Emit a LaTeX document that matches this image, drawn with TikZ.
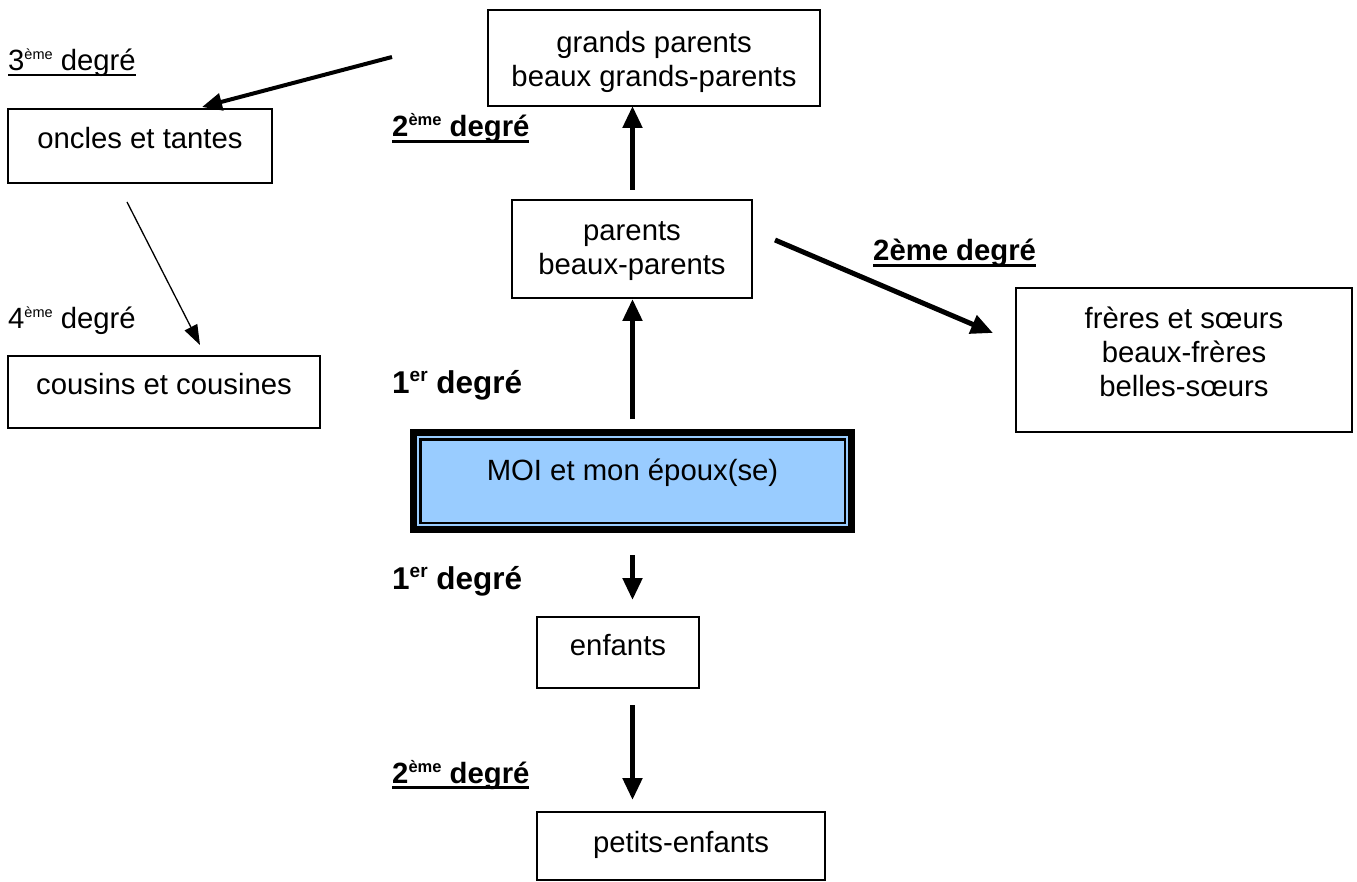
\documentclass[tikz,border=0pt]{standalone}
\usepackage{fontspec}
\setmainfont{Liberation Sans}
\usetikzlibrary{arrows.meta}
\definecolor{moiblue}{HTML}{99CCFF}
\newcommand{\supx}[1]{\raisebox{11pt}{\fontsize{14.5}{14.5}\selectfont #1}}
\newcommand{\supb}[1]{\raisebox{11pt}{\fontsize{16.5}{16.5}\selectfont #1}}
\newcommand{\supy}[1]{\raisebox{12pt}{\fontsize{19}{19}\selectfont #1}}
\newcommand{\undl}[3]{\setbox0\hbox{#3}\rlap{\rule[#1]{\wd0}{#2}}\box0}
\newcommand{\ml}[1]{\begin{tabular}[t]{@{}c@{}}#1\end{tabular}}
\tikzset{
  big/.style={font=\fontsize{29.3}{33.6}\selectfont},
  bigger/.style={font=\fontsize{31.5}{36}\selectfont},
  box/.style={big, draw, line width=1.8pt, inner sep=0pt, outer sep=0pt, anchor=north west},
  thk/.style={line width=5pt, -{Triangle[length=22pt,width=19pt]}},
  mid/.style={line width=4pt, -{Triangle[length=20pt,width=17pt]}},
  thin/.style={line width=1.3pt, -{Triangle[length=20pt,width=14pt]}},
  lbl/.style={big, anchor=base west, inner sep=0pt}
}
\begin{document}
\begin{tikzpicture}[x=1pt,y=-1pt]
\useasboundingbox (0,0) rectangle (1357,882);
% boxes
\node[box, minimum width=332pt, text height=43pt, text depth=53pt] (gp) at (488,10) {\ml{grands parents\\beaux grands-parents}};
\node[box, minimum width=240pt, text height=41pt, text depth=57pt] (par) at (512,200) {\ml{parents\\beaux-parents}};
\node[box, minimum width=336pt, text height=41pt, text depth=103pt] (fr) at (1016,288) {\ml{frères et sœurs\\beaux-frères\\belles-sœurs}};
\node[box, minimum width=264pt, text height=40pt, text depth=34pt] (onc) at (8,109) {oncles et tantes};
\node[box, minimum width=312pt, text height=39pt, text depth=33pt] (cou) at (8,356) {cousins et cousines};
\node[big, anchor=north west, inner sep=0pt, outer sep=0pt, fill=moiblue, minimum width=445pt, text height=51pt, text depth=53pt] (moi) at (410,429) {MOI et mon époux(se)};
\draw[line width=7pt] ([shift={(3.5,3.5)}]moi.north west) rectangle ([shift={(-3.5,-3.5)}]moi.south east);
\draw[line width=2.5pt] ([shift={(10.25,10.25)}]moi.north west) rectangle ([shift={(-10.25,-10.25)}]moi.south east);
\node[box, minimum width=162pt, text height=38pt, text depth=33pt] (enf) at (537,617) {enfants};
\node[box, minimum width=288pt, text height=40pt, text depth=28pt] (pe) at (537,812) {petits-enfants};
% labels
\node[lbl] (l3) at (8,71) {\undl{-5pt}{2pt}{3\supx{ème} degré}};
\node[lbl] (l2a) at (392,137) {\bfseries\undl{-6pt}{3pt}{2\supb{ème} degré}};
\node[lbl] (l2b) at (873,261) {\bfseries\undl{-6pt}{3pt}{2ème degré}};
\node[lbl] (l4) at (8,329) {4\supx{ème} degré};
\node[lbl, bigger] (l1a) at (392,393) {\bfseries 1\supy{er} degré};
\node[lbl, bigger] (l1b) at (392,589) {\bfseries 1\supy{er} degré};
\node[lbl] (l2c) at (392,783) {\bfseries\undl{-6pt}{3pt}{2\supb{ème} degré}};
% connectors
\draw[thk, shorten <=10pt, shorten >=1pt] (moi.north) -- (moi.north |- par.south);
\draw[thk, shorten <=10pt] (moi.north |- par.north) -- (moi.north |- gp.south);
\draw[thk, shorten <=22pt, shorten >=17pt] (moi.south) -- (moi.south |- enf.north);
\draw[thk, shorten <=17pt, shorten >=12pt] (moi.south |- enf.south) -- (moi.south |- pe.north);
\coordinate (oA) at ([shift={(-96,-1)}]gp.west);
\coordinate (oB) at ([shift={(62,-2)}]onc.north);
\draw[mid] (oA) -- (oB);
\coordinate (fA) at ([shift={(23,-9)}]par.east);
\coordinate (fB) at ([shift={(-23,-27)}]fr.west);
\draw[thk] (fA) -- (fB);
\coordinate (cA) at ([shift={(-13,19)}]onc.south);
\coordinate (cB) at ([shift={(36,-11)}]cou.north);
\draw[thin] (cA) -- (cB);
\end{tikzpicture}
\end{document}
